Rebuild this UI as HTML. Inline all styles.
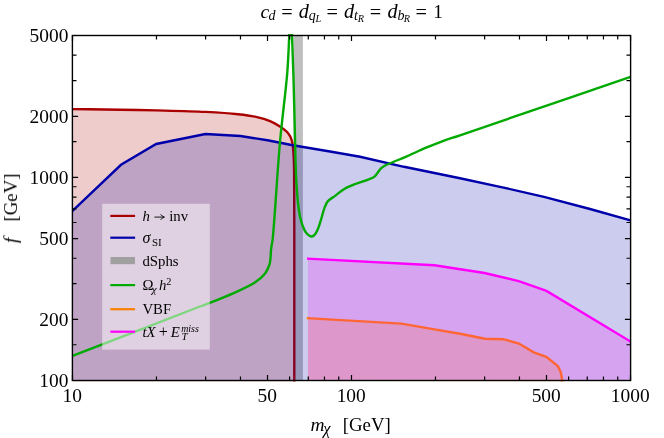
<!DOCTYPE html>
<html><head><meta charset="utf-8"><title>plot</title>
<style>html,body{margin:0;padding:0;background:#fff}body{width:664px;height:438px;position:relative;overflow:hidden;font-family:"Liberation Serif",serif}</style></head>
<body>
<svg width="664" height="438" viewBox="0 0 664 438" style="position:absolute;left:0;top:0">
<defs><clipPath id="c"><rect x="72.5" y="34" width="558" height="348"/></clipPath></defs>
<g clip-path="url(#c)" fill="none" stroke-linejoin="miter">
<rect x="293.5" y="35.5" width="9.4" height="345" fill="rgb(191,191,191)"/>
<path d="M72.50 109.10 C88.33 109.30 105.24 109.46 120.00 109.70 C132.89 109.91 143.21 110.08 156.20 110.40 C171.35 110.78 190.69 111.16 205.40 111.90 C217.39 112.51 228.90 113.21 238.00 114.20 C244.60 114.92 249.55 115.51 255.00 116.70 C260.20 117.84 266.24 119.61 270.00 121.10 C272.41 122.06 273.82 122.96 275.70 124.00 C277.62 125.06 279.54 126.11 281.40 127.40 C283.35 128.76 285.55 130.30 287.10 132.00 C288.52 133.56 289.63 135.29 290.50 137.10 C291.36 138.89 291.85 140.79 292.30 142.80 C292.78 144.97 292.97 147.31 293.20 149.70 C293.45 152.26 293.56 154.75 293.70 157.70 C293.87 161.36 294.00 164.52 294.10 170.00 C294.30 181.05 294.26 198.58 294.30 220.00 C294.38 258.49 294.30 327.67 294.30 381.50 L72.5 381.5Z" fill="rgba(170,0,0,0.2)"/>
<path d="M72.50 109.10 C88.33 109.30 105.24 109.46 120.00 109.70 C132.89 109.91 143.21 110.08 156.20 110.40 C171.35 110.78 190.69 111.16 205.40 111.90 C217.39 112.51 228.90 113.21 238.00 114.20 C244.60 114.92 249.55 115.51 255.00 116.70 C260.20 117.84 266.24 119.61 270.00 121.10 C272.41 122.06 273.82 122.96 275.70 124.00 C277.62 125.06 279.54 126.11 281.40 127.40 C283.35 128.76 285.55 130.30 287.10 132.00 C288.52 133.56 289.63 135.29 290.50 137.10 C291.36 138.89 291.85 140.79 292.30 142.80 C292.78 144.97 292.97 147.31 293.20 149.70 C293.45 152.26 293.56 154.75 293.70 157.70 C293.87 161.36 294.00 164.52 294.10 170.00 C294.30 181.05 294.26 198.58 294.30 220.00 C294.38 258.49 294.30 327.67 294.30 381.50" stroke="rgb(170,0,0)" stroke-width="2.4"/>
<polygon points="72.5,211.0 121.0,164.8 156.2,144.0 205.4,134.0 240.5,136.0 267.5,140.3 292.8,145.2 330.0,151.5 360.0,156.8 404.0,166.8 460.0,178.2 500.0,186.8 545.0,197.1 590.0,209.0 630.5,220.4 630.5,381 72.5,381" fill="rgba(0,0,170,0.2)"/>
<polyline points="72.5,211.0 121.0,164.8 156.2,144.0 205.4,134.0 240.5,136.0 267.5,140.3 292.8,145.2 330.0,151.5 360.0,156.8 404.0,166.8 460.0,178.2 500.0,186.8 545.0,197.1 590.0,209.0 630.5,220.4" stroke="rgb(0,0,170)" stroke-width="2.4"/>
<path d="M72.50 355.90 C115.00 339.43 182.07 313.32 200.00 306.50 C204.78 304.68 205.33 304.58 209.10 303.10 C215.40 300.63 226.31 296.39 234.20 292.80 C241.47 289.50 249.30 286.21 254.80 282.50 C259.05 279.63 262.58 276.71 265.10 273.40 C267.28 270.54 268.58 267.79 269.60 264.20 C270.88 259.72 270.61 252.78 271.20 248.30 C271.64 244.99 272.07 244.14 272.60 239.70 C274.37 224.81 277.31 171.81 280.00 142.00 C282.27 116.79 285.75 91.95 287.30 72.30 C288.44 57.96 288.75 44.65 289.30 35.00 C289.65 28.88 289.90 25.00 290.20 20.00 L291.40 20.00 C291.60 25.00 291.77 28.80 292.00 35.00 C292.38 45.13 292.95 59.96 293.40 75.00 C293.99 94.47 294.74 126.75 295.10 142.00 C295.29 149.90 295.30 153.65 295.50 160.00 C295.72 167.15 295.93 175.20 296.40 182.80 C296.87 190.43 297.54 199.40 298.30 205.70 C298.84 210.17 299.29 213.54 300.10 217.10 C300.83 220.33 301.69 223.42 302.80 226.20 C303.80 228.71 304.81 231.32 306.30 233.10 C307.57 234.62 309.35 236.27 310.80 236.50 C311.96 236.68 313.18 236.12 314.20 235.30 C315.58 234.18 316.65 231.84 317.70 229.60 C319.03 226.75 320.00 222.91 321.10 219.40 C322.27 215.69 323.21 211.18 324.50 207.90 C325.53 205.29 326.26 203.03 327.90 201.10 C329.63 199.06 332.35 197.92 334.80 196.10 C337.63 194.00 340.58 191.18 343.90 189.20 C347.38 187.12 351.45 185.53 355.30 184.00 C359.09 182.50 363.41 181.41 366.80 180.10 C369.56 179.04 372.40 178.23 374.20 176.90 C375.54 175.91 376.12 174.74 377.10 173.50 C378.21 172.10 379.17 170.23 380.50 168.90 C381.83 167.57 383.35 166.51 385.10 165.50 C387.11 164.34 389.30 163.65 392.00 162.50 C395.79 160.89 400.69 158.95 405.70 156.80 C411.86 154.15 419.77 150.41 426.20 147.70 C431.84 145.32 436.70 143.33 442.20 141.30 C447.95 139.18 451.04 138.35 460.00 135.30 C487.76 125.86 573.67 96.30 630.50 76.80" stroke="rgb(0,170,0)" stroke-width="2.4"/>
<polygon points="307.9,318.1 306.8,318.1 401.4,323.6 434.5,329.4 460.0,333.8 470.0,335.7 484.9,338.7 503.1,339.2 518.9,343.5 533.8,352.3 546.2,356.8 557.8,366.1 560.8,372.2 562.4,381.5 307.9,381" fill="rgba(255,128,0,0.2)"/>
<polyline points="306.8,318.1 401.4,323.6 434.5,329.4 460.0,333.8 470.0,335.7 484.9,338.7 503.1,339.2 518.9,343.5 533.8,352.3 546.2,356.8 557.8,366.1 560.8,372.2 562.4,381.5" stroke="rgb(255,128,0)" stroke-width="2.4"/>
<polygon points="307.9,258.6 307.0,258.6 434.5,265.2 484.6,273.0 519.5,281.3 546.5,290.9 630.5,341.5 630.5,381 307.9,381" fill="rgba(255,0,255,0.2)"/>
<polyline points="307.0,258.6 434.5,265.2 484.6,273.0 519.5,281.3 546.5,290.9 630.5,341.5" stroke="rgb(255,0,255)" stroke-width="2.4"/>
</g>
<rect x="102.2" y="203.8" width="107.6" height="145.8" fill="rgba(255,255,255,0.5)"/>
<line x1="110.3" x2="135.1" y1="215.9" y2="215.9" stroke="rgb(170,0,0)" stroke-width="2.2"/>
<line x1="110.3" x2="135.1" y1="237.7" y2="237.7" stroke="rgb(0,0,170)" stroke-width="2.2"/>
<rect x="110.5" y="257.0" width="24.5" height="7.2" fill="rgb(160,160,160)"/>
<line x1="110.3" x2="135.1" y1="285.1" y2="285.1" stroke="rgb(0,170,0)" stroke-width="2.2"/>
<line x1="110.3" x2="135.1" y1="309.2" y2="309.2" stroke="rgb(255,128,0)" stroke-width="2.2"/>
<line x1="110.3" x2="135.1" y1="331.7" y2="331.7" stroke="rgb(255,0,255)" stroke-width="2.2"/>
<g stroke="#000" stroke-width="1.2" fill="none">
<rect x="72.4" y="35.5" width="558.2" height="345" stroke-width="1.4"/>
<path d="M72.50 380.5v-5.6M72.50 35.5v5.6"/>
<path d="M267.51 380.5v-5.6M267.51 35.5v5.6"/>
<path d="M351.50 380.5v-5.6M351.50 35.5v5.6"/>
<path d="M546.51 380.5v-5.6M546.51 35.5v5.6"/>
<path d="M630.50 380.5v-5.6M630.50 35.5v5.6"/>
<path d="M156.49 380.5v-4.0M156.49 35.5v4.0"/>
<path d="M205.62 380.5v-4.0M205.62 35.5v4.0"/>
<path d="M240.47 380.5v-4.0M240.47 35.5v4.0"/>
<path d="M289.60 380.5v-4.0M289.60 35.5v4.0"/>
<path d="M308.28 380.5v-4.0M308.28 35.5v4.0"/>
<path d="M324.46 380.5v-4.0M324.46 35.5v4.0"/>
<path d="M338.73 380.5v-4.0M338.73 35.5v4.0"/>
<path d="M435.49 380.5v-4.0M435.49 35.5v4.0"/>
<path d="M484.62 380.5v-4.0M484.62 35.5v4.0"/>
<path d="M519.47 380.5v-4.0M519.47 35.5v4.0"/>
<path d="M568.60 380.5v-4.0M568.60 35.5v4.0"/>
<path d="M587.28 380.5v-4.0M587.28 35.5v4.0"/>
<path d="M603.46 380.5v-4.0M603.46 35.5v4.0"/>
<path d="M617.73 380.5v-4.0M617.73 35.5v4.0"/>
<path d="M72.5 380.50h5.6M630.5 380.50h-5.6"/>
<path d="M72.5 319.37h5.6M630.5 319.37h-5.6"/>
<path d="M72.5 238.56h5.6M630.5 238.56h-5.6"/>
<path d="M72.5 177.44h5.6M630.5 177.44h-5.6"/>
<path d="M72.5 116.31h5.6M630.5 116.31h-5.6"/>
<path d="M72.5 35.50h5.6M630.5 35.50h-5.6"/>
<path d="M72.5 344.74h4.0M630.5 344.74h-4.0"/>
<path d="M72.5 283.61h4.0M630.5 283.61h-4.0"/>
<path d="M72.5 258.24h4.0M630.5 258.24h-4.0"/>
<path d="M72.5 222.49h4.0M630.5 222.49h-4.0"/>
<path d="M72.5 208.89h4.0M630.5 208.89h-4.0"/>
<path d="M72.5 197.11h4.0M630.5 197.11h-4.0"/>
<path d="M72.5 186.73h4.0M630.5 186.73h-4.0"/>
<path d="M72.5 141.68h4.0M630.5 141.68h-4.0"/>
<path d="M72.5 80.55h4.0M630.5 80.55h-4.0"/>
<path d="M72.5 55.18h4.0M630.5 55.18h-4.0"/>
</g>
<g font-family="'Liberation Serif', serif" font-size="19.4" fill="#000" opacity="0.999">
<text x="72.2" y="401.5" text-anchor="middle">10</text>
<text x="267.2" y="401.5" text-anchor="middle">50</text>
<text x="351.2" y="401.5" text-anchor="middle">100</text>
<text x="546.2" y="401.5" text-anchor="middle">500</text>
<text x="630.2" y="401.5" text-anchor="middle">1000</text>
<text x="68.4" y="387.1" text-anchor="end">100</text>
<text x="68.4" y="326.0" text-anchor="end">200</text>
<text x="68.4" y="245.2" text-anchor="end">500</text>
<text x="68.4" y="184.0" text-anchor="end">1000</text>
<text x="68.4" y="122.9" text-anchor="end">2000</text>
<text x="68.4" y="42.1" text-anchor="end">5000</text>
<text x="310.6" y="431.4" font-style="italic">m</text>
<text x="323.2" y="433.5" font-style="italic" font-size="16.5">χ</text>
<text x="342.8" y="431.4" font-size="18.8">[GeV]</text>
<g transform="translate(17,244.3) rotate(-90)"><text x="1.2" y="0" font-style="italic">f</text><text x="22.8" y="0" font-size="18.8">[GeV]</text></g>
<text x="260.6" y="18.0" font-style="italic" font-size="19.6">c</text>
<text x="268.6" y="19.9" font-style="italic" font-size="14.0">d</text>
<text x="281.2" y="19.2" font-style="normal" font-size="20.3">=</text>
<text x="298.8" y="18.0" font-style="italic" font-size="20.3">d</text>
<text x="308.8" y="19.9" font-style="italic" font-size="14.0">q</text>
<text x="315.4" y="21.6" font-style="italic" font-size="10.3">L</text>
<text x="326.4" y="19.2" font-style="normal" font-size="20.3">=</text>
<text x="344.1" y="18.0" font-style="italic" font-size="20.3">d</text>
<text x="354.0" y="19.9" font-style="italic" font-size="14.0">t</text>
<text x="357.8" y="21.6" font-style="italic" font-size="10.3">R</text>
<text x="369.7" y="19.2" font-style="normal" font-size="20.3">=</text>
<text x="387.5" y="18.0" font-style="italic" font-size="20.3">d</text>
<text x="397.4" y="19.9" font-style="italic" font-size="14.0">b</text>
<text x="403.7" y="21.6" font-style="italic" font-size="10.3">R</text>
<text x="415.4" y="19.2" font-style="normal" font-size="20.3">=</text>
<text x="433.2" y="18.0" font-style="normal" font-size="19.4">1</text>
</g>
<g font-family="'Liberation Serif', serif" font-size="14.8" fill="#000" opacity="0.999">
<text x="142.4" y="220.8" font-style="italic">h</text>
<path d="M154.4 217.1H164.2M160.6 214.3Q162 216.4 164.4 217.1Q162 217.8 160.6 219.9" stroke="#000" stroke-width="0.9" fill="none"/>
<text x="169.2" y="220.8">inv</text>
<text x="142.4" y="242.6" font-style="italic" font-size="16">σ</text>
<text x="152.0" y="245.6" font-size="11">SI</text>
<text x="142.4" y="265.5">dSphs</text>
<text x="142.4" y="290">Ω</text>
<text x="151.8" y="293.2" font-size="11" font-style="italic">χ</text>
<text x="159" y="290" font-style="italic">h</text>
<text x="166.3" y="284.8" font-size="10.3">2</text>
<text x="142.4" y="313.5">VBF</text>
<text x="142.4" y="336.6" font-style="italic">tX</text>
<text x="158.8" y="336.6" font-size="16">+</text>
<text x="170.8" y="336.6" font-style="italic">E</text>
<text x="181.4" y="340.3" font-size="11" font-style="italic">T</text>
<text x="181.2" y="332.3" font-size="9.9" font-style="italic">miss</text>
</g>
</svg>
</body></html>
